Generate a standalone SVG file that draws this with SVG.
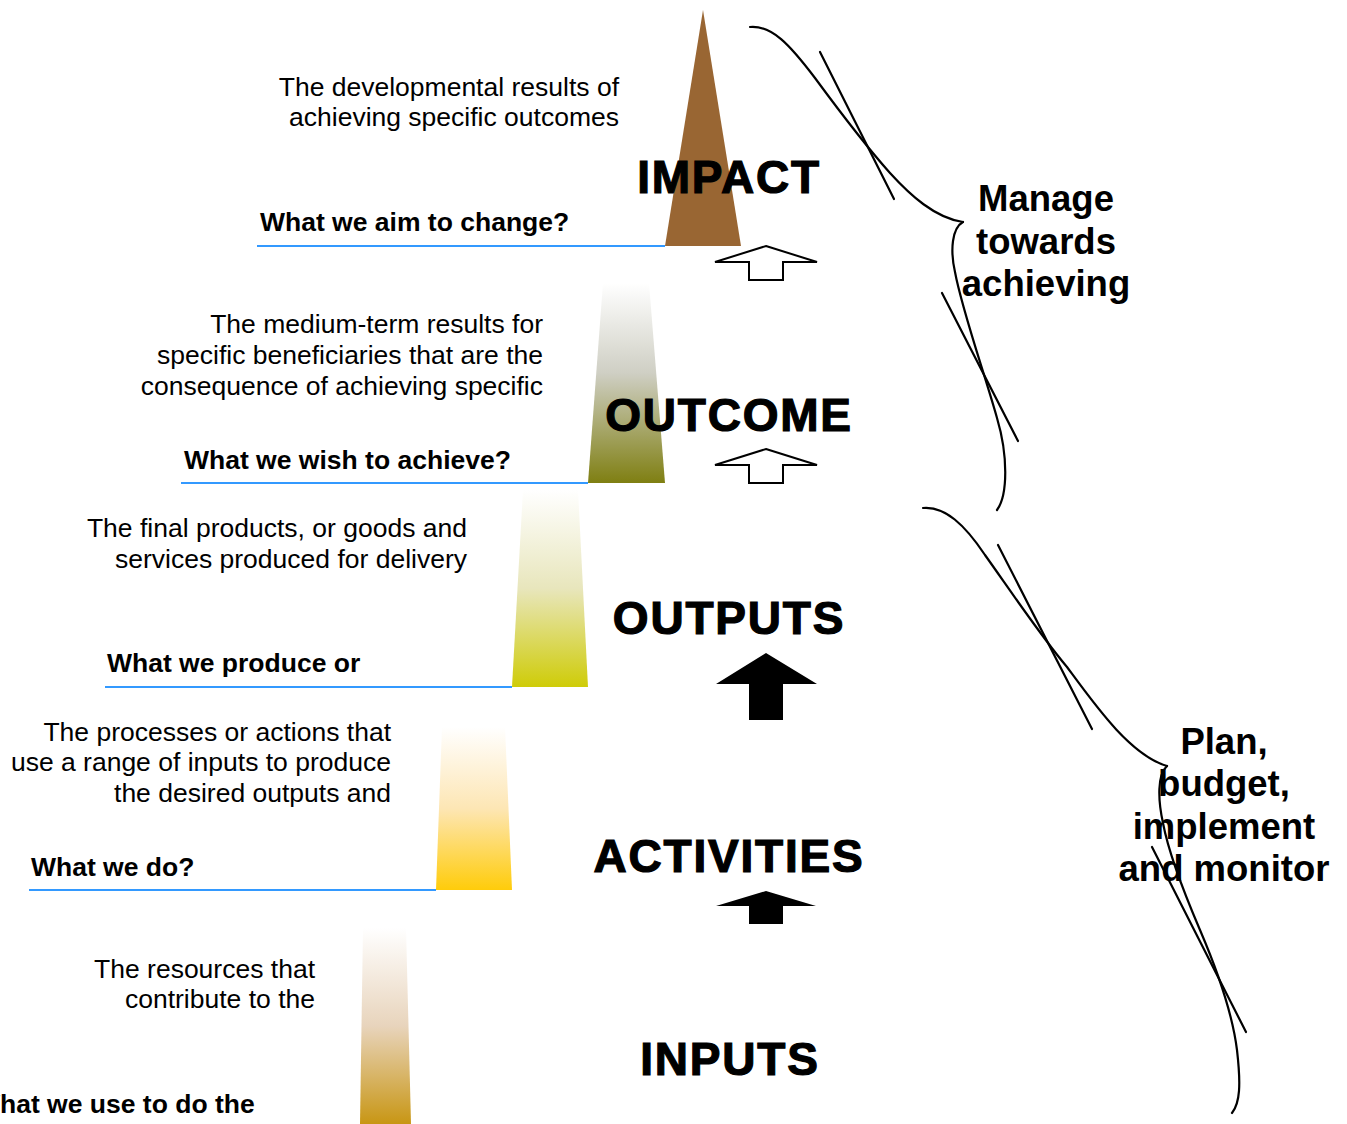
<svg xmlns="http://www.w3.org/2000/svg" width="1347" height="1124" viewBox="0 0 1347 1124">
  <style>
    .desc { font-family: "Liberation Sans", Arial, sans-serif; font-size: 26.5px; fill: #000; text-anchor: end; }
    .ask { font-family: "Liberation Sans", Arial, sans-serif; font-size: 26.5px; font-weight: bold; fill: #000; }
    .title { font-family: "Liberation Sans", Arial, sans-serif; font-size: 46px; font-weight: bold; fill: #000; stroke: #000; stroke-width: 1.2; text-anchor: middle; letter-spacing: 1.8px; }
    .side { font-family: "Liberation Sans", Arial, sans-serif; font-size: 36.5px; font-weight: bold; fill: #000; text-anchor: middle; }
    .rule { stroke: #3399ff; stroke-width: 2; fill: none; }
    .hollow { fill: #fff; stroke: #000; stroke-width: 2; stroke-linejoin: miter; }
    .solid { fill: #000; stroke: none; }
    .brace { fill: none; stroke: #000; stroke-width: 2.2; stroke-linecap: round; }
  </style>
  <defs>
    <linearGradient id="gOutcome" x1="0" y1="0" x2="0" y2="1">
      <stop offset="0" stop-color="#ffffff"/>
      <stop offset="0.45" stop-color="#cfcfc4"/>
      <stop offset="1" stop-color="#7f7f12"/>
    </linearGradient>
    <linearGradient id="gOutputs" x1="0" y1="0" x2="0" y2="1">
      <stop offset="0" stop-color="#ffffff"/>
      <stop offset="0.5" stop-color="#e8e6bc"/>
      <stop offset="1" stop-color="#cfcc08"/>
    </linearGradient>
    <linearGradient id="gActivities" x1="0" y1="0" x2="0" y2="1">
      <stop offset="0" stop-color="#ffffff"/>
      <stop offset="0.5" stop-color="#fde6b4"/>
      <stop offset="1" stop-color="#ffcc0a"/>
    </linearGradient>
    <linearGradient id="gInputs" x1="0" y1="0" x2="0" y2="1">
      <stop offset="0" stop-color="#ffffff"/>
      <stop offset="0.5" stop-color="#e8d4bc"/>
      <stop offset="1" stop-color="#c89614"/>
    </linearGradient>
  </defs>

  <rect x="0" y="0" width="1347" height="1124" fill="#ffffff"/>

  <!-- Impact level -->
  <g id="impact">
    <polygon points="703,10 741,246 665,246" fill="#996633"/>
    <line class="rule" x1="257" y1="246" x2="665" y2="246"/>
    <text class="desc" x="619" y="96">The developmental results of</text>
    <text class="desc" x="619" y="126">achieving specific outcomes</text>
    <text class="ask" x="260" y="231">What we aim to change?</text>
    <text class="title" x="729" y="193">IMPACT</text>
  </g>

  <!-- Outcome level -->
  <g id="outcome">
    <polygon points="603,283 649,283 665,483 588,483" fill="url(#gOutcome)"/>
    <line class="rule" x1="181" y1="483" x2="588" y2="483"/>
    <text class="desc" x="543" y="333">The medium-term results for</text>
    <text class="desc" x="543" y="364">specific beneficiaries that are the</text>
    <text class="desc" x="543" y="395">consequence of achieving specific</text>
    <text class="ask" x="184" y="469">What we wish to achieve?</text>
    <text class="title" x="729" y="431">OUTCOME</text>
  </g>

  <!-- Outputs level -->
  <g id="outputs">
    <polygon points="523,490 578,490 588,687 512,687" fill="url(#gOutputs)"/>
    <line class="rule" x1="105" y1="687" x2="512" y2="687"/>
    <text class="desc" x="467" y="537">The final products, or goods and</text>
    <text class="desc" x="467" y="568">services produced for delivery</text>
    <text class="ask" x="107" y="672">What we produce or</text>
    <text class="title" x="729" y="634">OUTPUTS</text>
  </g>

  <!-- Activities level -->
  <g id="activities">
    <polygon points="442,727 505,727 512,890 436,890" fill="url(#gActivities)"/>
    <line class="rule" x1="29" y1="890" x2="436" y2="890"/>
    <text class="desc" x="391" y="741">The processes or actions that</text>
    <text class="desc" x="391" y="771">use a range of inputs to produce</text>
    <text class="desc" x="391" y="802">the desired outputs and</text>
    <text class="ask" x="31" y="876">What we do?</text>
    <text class="title" x="729" y="872">ACTIVITIES</text>
  </g>

  <!-- Inputs level -->
  <g id="inputs">
    <polygon points="363,928 406,928 411,1124 360,1124" fill="url(#gInputs)"/>
    <text class="desc" x="315" y="978">The resources that</text>
    <text class="desc" x="315" y="1008">contribute to the</text>
    <text class="ask" x="-25" y="1113">What we use to do the</text>
    <text class="title" x="730" y="1075">INPUTS</text>
  </g>

  <!-- Upward arrows between levels -->
  <g id="connectors">
    <polygon class="hollow" points="766,246 817,262 783,262 783,280 749,280 749,262 715,262"/>
    <polygon class="hollow" points="766,449 817,465 783,465 783,483 749,483 749,465 715,465"/>
    <polygon class="solid" points="766,653 817,684 783,684 783,720 749,720 749,684 716,684"/>
    <polygon class="solid" points="766,891 816,906 783,906 783,924 749,924 749,906 716,906"/>
  </g>

  <!-- Management brace (impact + outcome) -->
  <g id="brace-manage">
    <path class="brace" d="M750,27 C772,25 790,45 815,78 C840,112 865,145 890,173 C910,195 935,218 963,222"/>
    <path class="brace" d="M963,222 C952,228 950,250 955,272 C962,310 985,375 997,418 C1008,455 1008,495 997,510"/>
    <line class="brace" x1="820" y1="52" x2="894" y2="199"/>
    <line class="brace" x1="942" y1="293" x2="1018" y2="441"/>
    <text class="side" x="1046" y="211">Manage</text>
    <text class="side" x="1046" y="253.5">towards</text>
    <text class="side" x="1046" y="296">achieving</text>
  </g>

  <!-- Delivery brace (outputs, activities, inputs) -->
  <g id="brace-plan">
    <path class="brace" d="M923,508 C945,506 965,525 985,555 C1010,590 1040,635 1067,667 C1095,705 1130,755 1167,766"/>
    <path class="brace" d="M1167,766 C1157,775 1158,800 1163,823 C1168,850 1185,895 1200,930 C1215,965 1232,1010 1237,1050 C1241,1085 1240,1103 1232,1113"/>
    <line class="brace" x1="998" y1="545" x2="1092" y2="729"/>
    <line class="brace" x1="1152" y1="847" x2="1246" y2="1032"/>
    <text class="side" x="1224" y="754">Plan,</text>
    <text class="side" x="1224" y="796">budget,</text>
    <text class="side" x="1224" y="839">implement</text>
    <text class="side" x="1224" y="881">and monitor</text>
  </g>
</svg>
